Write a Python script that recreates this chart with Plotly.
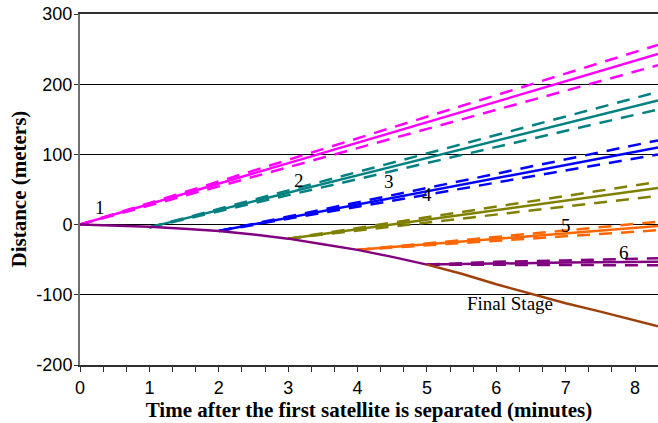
import plotly.graph_objects as go

# ---- data ----
# remaining stack before the last satellite leaves (purple), then final stage (brown)
stack_t = [0, 0.5, 1, 1.5, 2, 2.5, 3, 3.5, 4, 4.5, 5]
stack_d = [0, -1, -3, -6, -9, -14, -20, -28, -36, -46, -57]
final_t = [5, 5.5, 6, 6.5, 7, 7.5, 8, 8.33]
final_d = [-57, -70, -85, -99, -112, -124, -136, -145]

# satellites: time, centre, upper, lower
sat_names = ["1", "2", "3", "4", "5", "6"]
sat_colors = ["#FF00FF", "#008080", "#0000FF", "#808000", "#FF6600", "#800080"]
sat_t = [[0, 8.33], [1, 8.33], [2, 8.33], [3, 8.33], [4, 8.33], [5, 6, 7, 8.33]]
sat_mid = [[0, 243], [-4, 177], [-9, 110], [-20, 52], [-36, -2], [-57, -55, -54, -53]]
sat_up = [[0, 256], [-4, 189], [-9, 120], [-20, 61], [-36, 4], [-57, -53, -51, -48]]
sat_lo = [[0, 227], [-4, 164], [-9, 100], [-20, 41], [-36, -8], [-57, -57, -58, -58]]

label_text = ["1", "2", "3", "4", "5", "6", "Final Stage"]
label_x = [0.29, 3.15, 4.46, 5.0, 7.0, 7.84, 6.2]
label_y = [25, 63, 62, 43, -1, -40, -112]

x_range = [0, 8.33]
y_range = [-200, 300]
y_tickvals = [-200, -100, 0, 100, 200, 300]
y_ticktext = ["-200", "-100", "0", "100", "200", "300"]

fig = go.Figure()

for i in range(len(sat_names)):
    c = sat_colors[i]
    for arr in (sat_up[i], sat_lo[i]):
        fig.add_trace(go.Scatter(x=sat_t[i], y=arr, mode="lines",
                                 line=dict(color=c, width=2.5, dash="13px,9px"),
                                 showlegend=False, hoverinfo="skip"))
    fig.add_trace(go.Scatter(x=sat_t[i], y=sat_mid[i], mode="lines",
                             line=dict(color=c, width=2.5),
                             showlegend=False, name="Satellite " + sat_names[i]))

fig.add_trace(go.Scatter(x=stack_t, y=stack_d, mode="lines",
                         line=dict(color="#800080", width=2.5), showlegend=False))
fig.add_trace(go.Scatter(x=final_t, y=final_d, mode="lines",
                         line=dict(color="#A0400A", width=2.5), showlegend=False))

for txt, lx, ly in zip(label_text, label_x, label_y):
    fig.add_annotation(x=lx, y=ly, text=txt, showarrow=False,
                       font=dict(family="Liberation Serif", size=19, color="black"))

# y-axis title placed as a rotated annotation just left of the tick labels
fig.add_annotation(xref="paper", yref="paper", x=0, y=0.5, xshift=-62,
                   xanchor="center", yanchor="middle", textangle=-90, showarrow=False,
                   text="<b>Distance (meters)</b>",
                   font=dict(family="Liberation Serif", size=21, color="black"))

fig.update_layout(
    width=658, height=423,
    margin=dict(l=80, r=0, t=14, b=58),
    plot_bgcolor="white", paper_bgcolor="white",
    showlegend=False,
    xaxis=dict(range=x_range, dtick=1, tick0=0, showgrid=False, zeroline=False,
               automargin=False,
               showline=True, linecolor="#303030", linewidth=2, mirror=True,
               ticks="outside", ticklen=5, tickcolor="#303030", tickwidth=1,
               minor=dict(dtick=1/3, ticks="outside", ticklen=5, tickcolor="#303030"),
               tickfont=dict(family="Liberation Sans", size=18, color="black"),
               title=dict(text="<b>Time after the first satellite is separated (minutes)</b>",
                          font=dict(family="Liberation Serif", size=21, color="black"),
                          standoff=1)),
    yaxis=dict(range=y_range, tickmode="array", tickvals=y_tickvals, ticktext=y_ticktext,
               showgrid=True, gridcolor="black", gridwidth=1,
               automargin=False,
               zeroline=True, zerolinecolor="black", zerolinewidth=1,
               showline=True, linecolor="#707070", linewidth=2,
               ticks="outside", ticklen=4, tickcolor="#303030",
               ticklabelstandoff=-2,
               tickfont=dict(family="Liberation Sans", size=18, color="black")),
)

fig.write_html("out.html", config={"displayModeBar": False},
               post_script="document.body.style.margin='0px';"
                           "document.body.style.overflow='hidden';")
